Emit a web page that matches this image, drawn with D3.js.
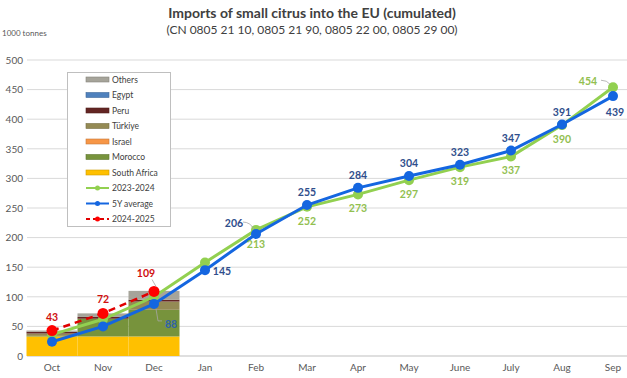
<!DOCTYPE html>
<html><head><meta charset="utf-8">
<script src="https://cdn.jsdelivr.net/npm/d3@7"></script>
<style>body{margin:0;background:#fff}svg{display:block}text{font-family:Lato,"Open Sans",sans-serif}</style>
</head><body><svg id="c" width="627" height="378"></svg>
<script>
const months = ["Oct","Nov","Dec","Jan","Feb","Mar","Apr","May","June","July","Aug","Sep"];
const yTicks = [0,50,100,150,200,250,300,350,400,450,500];
// stacked origin bars (2024-2025, cumulative), Oct-Dec
const barMonths = ["Oct","Nov","Dec"];
const southAfrica = [33,33,33];
const morocco = [1,30,45];
const israel = [0,0,0];
const turkiye = [4,0,14];
const peru = [3,3,3];
const egypt = [0,0,0];
const others = [2,6,15];
// lines
const s2023_2024 = [36,62,100,158,213,252,273,297,319,337,390,454];
const s5yAvg = [24,50,88,145,206,255,284,304,323,347,391,439];
const s2024_2025 = [43,72,109];

const svg = d3.select("#c");
const x = d3.scaleBand().domain(months).range([26.5,638.5]).padding(0);
const y = d3.scaleLinear().domain([0,500]).range([356,60]);
const cx = m => x(m) + x.bandwidth()/2;

// title
svg.append("text").attr("x",312).attr("y",18).attr("text-anchor","middle")
  .attr("font-size",14).attr("font-weight","bold").attr("fill","#404040")
  .text("Imports of small citrus into the EU (cumulated)");
svg.append("text").attr("x",312).attr("y",34).attr("text-anchor","middle")
  .attr("font-size",12).attr("fill","#404040")
  .text("(CN 0805 21 10, 0805 21 90, 0805 22 00, 0805 29 00)");
svg.append("text").attr("x",2).attr("y",36).attr("font-size",8).attr("fill","#595959").text("1000 tonnes");

// grid
svg.append("g").selectAll("line").data(yTicks).join("line")
  .attr("x1",27).attr("x2",627).attr("y1",d=>y(d)).attr("y2",d=>y(d))
  .attr("stroke",d=>d===0?"#bfbfbf":"#d9d9d9").attr("stroke-width",1);
// y axis labels
const ya = d3.axisLeft(y).tickValues(yTicks).tickSize(0).tickPadding(0);
const yg = svg.append("g").attr("transform","translate(23,0)").call(ya);
yg.select(".domain").remove();
yg.selectAll("text").attr("font-size",10).attr("fill","#595959").attr("font-family","Lato,sans-serif");
// x axis
const xa = d3.axisBottom(x).tickSize(0).tickPadding(8);
const xg = svg.append("g").attr("transform","translate(0,356)").call(xa);
xg.select(".domain").remove();
xg.selectAll("text").attr("font-size",10).attr("fill","#595959").attr("font-family","Lato,sans-serif");

// stacked bars
const seriesNames = ["South Africa","Morocco","Israel","Türkiye","Peru","Egypt","Others"];
const seriesVals = [southAfrica,morocco,israel,turkiye,peru,egypt,others];
const colors = {"South Africa":"#FFC000","Morocco":"#77933C","Israel":"#F79646","Türkiye":"#948A54","Peru":"#632523","Egypt":"#4F81BD","Others":"#A6A49A"};
const rows = barMonths.map((m,i)=>{const r={m};seriesNames.forEach((s,j)=>r[s]=seriesVals[j][i]);return r;});
const stack = d3.stack().keys(seriesNames)(rows);
svg.append("g").selectAll("g").data(stack).join("g").attr("fill",d=>colors[d.key])
  .selectAll("rect").data(d=>d).join("rect")
  .attr("x",d=>x(d.data.m)).attr("width",x.bandwidth())
  .attr("y",d=>y(d[1])).attr("height",d=>y(d[0])-y(d[1]));

// lines
const line = d3.line().x(d=>cx(d.m)).y(d=>y(d.v));
function drawLine(vals,color,w,dash,r,mcolor){
  const data = vals.map((v,i)=>({m:months[i],v}));
  svg.append("path").datum(data).attr("d",line).attr("fill","none")
    .attr("stroke",color).attr("stroke-width",w).attr("stroke-dasharray",dash||null);
  svg.append("g").selectAll("circle").data(data).join("circle")
    .attr("cx",d=>cx(d.m)).attr("cy",d=>y(d.v)).attr("r",r).attr("fill",mcolor||color);
}
drawLine(s2023_2024,"#92D050",3,null,5);
drawLine(s5yAvg,"#1466E0",3,null,5);
drawLine(s2024_2025,"#E00000",2.5,"7,5",5.5,"#FF0000");

// data labels (placement offsets only)
const lab = svg.append("g").attr("font-size",10.5).attr("font-weight","bold").attr("text-anchor","middle");
function label(series,i,dx,dy,color){
  lab.append("text").attr("x",cx(months[i])+dx).attr("y",y(series[i])+dy).attr("fill",color).text(series[i]);
}
const blueC="#2F4E8C", greenC="#92C050", redC="#D01010";
// blue
label(s5yAvg,2,17,24,"#2F64A8");
label(s5yAvg,3,17,5,blueC);
label(s5yAvg,4,-22,-7,blueC);
for(let i=5;i<=10;i++) label(s5yAvg,i,0,-9,blueC);
label(s5yAvg,11,2,20,blueC);
// green
for(let i=4;i<=10;i++) label(s2023_2024,i,0,18,greenC);
label(s2023_2024,11,-25,-2,greenC);
// red
label(s2024_2025,0,0,-10,redC);
label(s2024_2025,1,0,-10,redC);
label(s2024_2025,2,-8,-14,redC);
// leader lines
const lead = svg.append("g").attr("stroke","#a6a6a6").attr("fill","none").attr("stroke-width",0.8);
lead.append("path").attr("d",`M${cx("Dec")+2},${y(88)+5} L${cx("Dec")+4},${y(88)+17} L${cx("Dec")+8},${y(88)+17}`);
lead.append("path").attr("d",`M${cx("Feb")-13},${y(206)-12} Q${cx("Feb")-6},${y(206)-12} ${cx("Feb")-2},${y(206)-5}`);
lead.append("path").attr("d",`M${cx("Sep")-12},${y(454)-7} Q${cx("Sep")-6},${y(454)-7} ${cx("Sep")-3},${y(454)-3}`);
lead.append("path").attr("d",`M${cx("Dec")-2},${y(109)-12} L${cx("Dec")+2},${y(109)-5}`);

// legend
const lg = svg.append("g");
lg.append("rect").attr("x",67.5).attr("y",72.5).attr("width",103).attr("height",154)
  .attr("fill","#fff").attr("stroke","#bfbfbf");
const legItems = ["Others","Egypt","Peru","Türkiye","Israel","Morocco","South Africa","2023-2024","5Y average","2024-2025"];
legItems.forEach((name,i)=>{
  const yy = 79.5 + i*15.5;
  const g = lg.append("g");
  if(i<7){
    g.append("rect").attr("x",86).attr("y",yy-2.5).attr("width",23).attr("height",5)
      .attr("fill",colors[name]).attr("stroke",d3.color(colors[name]).darker(0.6)).attr("stroke-width",0.6);
  } else {
    const c = ["#92D050","#1466E0","#E00000"][i-7];
    g.append("line").attr("x1",86).attr("x2",109).attr("y1",yy).attr("y2",yy)
      .attr("stroke",c).attr("stroke-width",2).attr("stroke-dasharray",i===9?"4,3":null);
    g.append("circle").attr("cx",97.5).attr("cy",yy).attr("r",2.5).attr("fill",i===9?"#FF0000":c);
  }
  g.append("text").attr("x",112).attr("y",yy+3).attr("font-size",8.5).attr("fill","#404040").text(name);
});
</script></body></html>
